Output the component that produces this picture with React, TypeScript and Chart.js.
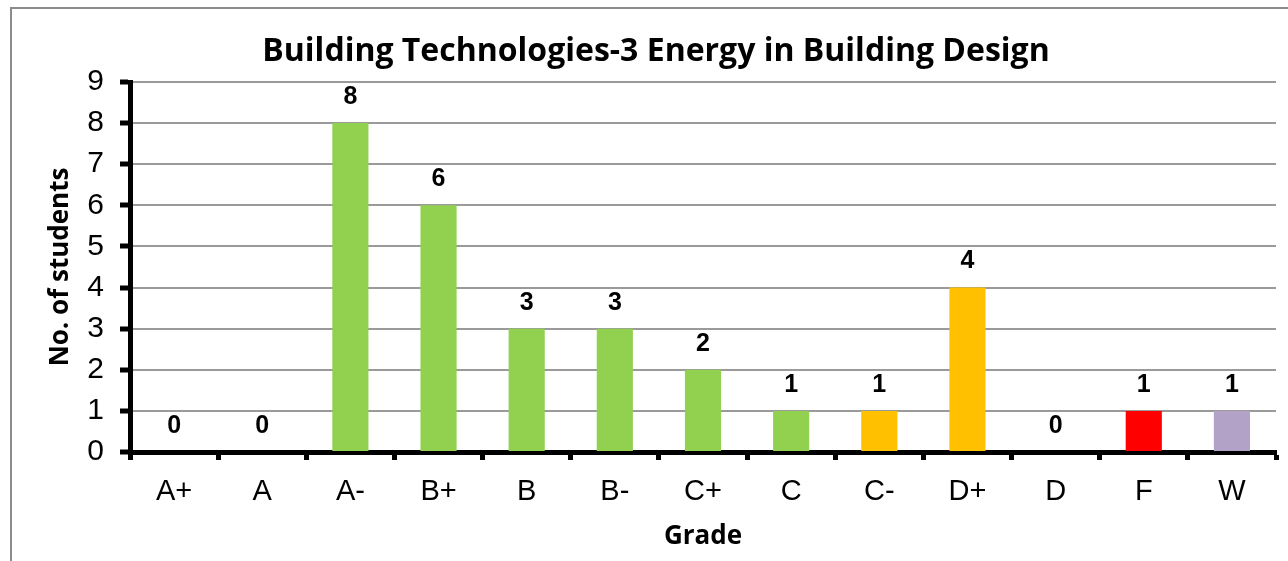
import React, { useEffect, useRef } from 'react';
import { Chart, registerables } from 'chart.js';

Chart.register(...registerables);

const chartTitle = 'Building Technologies-3 Energy in Building Design';
const xAxisTitle = 'Grade';
const yAxisTitle = 'No. of students';
const grades = ['A+', 'A', 'A-', 'B+', 'B', 'B-', 'C+', 'C', 'C-', 'D+', 'D', 'F', 'W'];
const students = [0, 0, 8, 6, 3, 3, 2, 1, 1, 4, 0, 1, 1];
const barColors = [
  '#92D050', '#92D050', '#92D050', '#92D050', '#92D050', '#92D050', '#92D050', '#92D050',
  '#FFC000', '#FFC000', '#FFC000', '#FF0000', '#B3A2C7',
];
const yMin = 0;
const yMax = 9;
const yStep = 1;

const ARIAL = '"Liberation Sans", Arial, sans-serif';
const CALIBRI = '"Open Sans", Lato, sans-serif';

const framePlugin = {
  id: 'frame',
  beforeDraw(chart: any) {
    const ctx = chart.ctx;
    ctx.save();
    ctx.fillStyle = '#ffffff';
    ctx.fillRect(0, 0, chart.width, chart.height);
    ctx.strokeStyle = '#8c8c8c';
    ctx.lineWidth = 2;
    ctx.beginPath();
    ctx.moveTo(11, chart.height);
    ctx.lineTo(11, 8);
    ctx.lineTo(chart.width, 8);
    ctx.stroke();
    ctx.restore();
  },
};

const valueLabelPlugin = {
  id: 'valueLabels',
  afterDatasetsDraw(chart: any) {
    const ctx = chart.ctx;
    const meta = chart.getDatasetMeta(0);
    const data = chart.data.datasets[0].data;
    ctx.save();
    ctx.font = `bold 25px ${ARIAL}`;
    ctx.fillStyle = '#000000';
    ctx.textAlign = 'center';
    ctx.textBaseline = 'middle';
    meta.data.forEach((bar: any, i: number) => {
      ctx.fillText(String(data[i]), bar.x, bar.y - 26);
    });
    ctx.restore();
  },
};

export default function App() {
  const canvasRef = useRef<HTMLCanvasElement | null>(null);

  useEffect(() => {
    const canvas = canvasRef.current;
    if (!canvas) return;
    const chart = new Chart(canvas, {
      type: 'bar',
      data: {
        labels: grades,
        datasets: [
          {
            data: students,
            backgroundColor: barColors,
            borderWidth: 0,
            categoryPercentage: 1,
            barPercentage: 0.41,
          },
        ],
      },
      plugins: [framePlugin, valueLabelPlugin],
      options: {
        responsive: false,
        animation: false,
        devicePixelRatio: 1,
        layout: { padding: { left: 36, right: 12, top: 0, bottom: 0 } },
        plugins: {
          legend: { display: false },
          tooltip: { enabled: false },
          title: {
            display: true,
            text: chartTitle,
            color: '#000000',
            font: { family: CALIBRI, size: 32, weight: 'bold', lineHeight: 1.2 },
            padding: { top: 33, bottom: 10.6 },
          },
        },
        scales: {
          x: {
            offset: true,
            afterFit(scale: any) {
              scale.height = 109;
            },
            grid: {
              display: true,
              offset: true,
              drawOnChartArea: false,
              drawTicks: true,
              tickLength: 8,
              tickColor: '#000000',
              tickWidth: 5,
            },
            border: { display: true, color: '#000000', width: 5 },
            ticks: {
              color: '#000000',
              font: { family: ARIAL, size: 29 },
              padding: 15,
              maxRotation: 0,
            },
            title: {
              display: true,
              text: xAxisTitle,
              color: '#000000',
              font: { family: CALIBRI, size: 26, weight: 'bold', lineHeight: 1.2 },
              padding: { top: 0, bottom: 9 },
            },
          },
          y: {
            min: yMin,
            max: yMax,
            afterFit(scale: any) {
              scale.width = 94;
            },
            grid: {
              color: '#9a9a9a',
              lineWidth: 2,
              drawTicks: true,
              tickLength: 10,
              tickColor: '#000000',
              tickWidth: 5,
            },
            border: { display: true, color: '#000000', width: 5 },
            ticks: {
              stepSize: yStep,
              color: '#000000',
              font: { family: ARIAL, size: 30 },
              padding: 16,
            },
            title: {
              display: true,
              text: yAxisTitle,
              color: '#000000',
              font: { family: CALIBRI, size: 26, weight: 'bold', lineHeight: 1.2 },
              padding: { top: 9, bottom: 0 },
            },
          },
        },
      },
    } as any);
    return () => chart.destroy();
  }, []);

  return (
    <div style={{ position: 'fixed', left: 0, top: 0, width: 1288, height: 561, background: '#fff' }}>
      <canvas ref={canvasRef} width={1288} height={561} style={{ display: 'block' }} />
    </div>
  );
}
